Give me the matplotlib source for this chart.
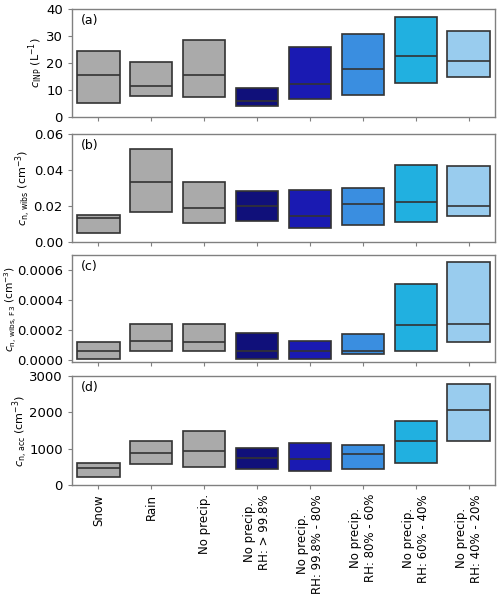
import matplotlib
matplotlib.use("Agg")
import matplotlib.pyplot as plt
import matplotlib.transforms as mtransforms
import numpy as np

categories = ["Snow", "Rain", "No precip.",
              "No precip.\nRH: > 99.8%", "No precip.\nRH: 99.8% - 80%",
              "No precip.\nRH: 80% - 60%", "No precip.\nRH: 60% - 40%",
              "No precip.\nRH: 40% - 20%"]
colors = ["#aaaaaa", "#aaaaaa", "#aaaaaa", "#10107a", "#1a1ab2",
          "#3a8ee0", "#21b0e0", "#99ccee"]

# (a) c_INP (L^-1)
inp_low = [5.1, 7.7, 7.5, 4.0, 6.7, 8.1, 12.5, 14.8]
inp_med = [15.7, 11.4, 15.4, 5.9, 12.2, 17.8, 22.6, 20.9]
inp_high = [24.6, 20.2, 28.5, 10.9, 25.8, 30.6, 37.0, 32.0]

# (b) c_n,wibs (cm^-3)
wibs_low = [0.0050, 0.0165, 0.0106, 0.0119, 0.0080, 0.0093, 0.0111, 0.0143]
wibs_med = [0.0131, 0.0333, 0.0187, 0.0198, 0.0143, 0.0211, 0.0222, 0.0198]
wibs_high = [0.0152, 0.0515, 0.0333, 0.0281, 0.0291, 0.0302, 0.0426, 0.0420]

# (c) c_n,wibs,F3 (cm^-3)
f3_low = [0.000007, 0.000062, 0.000062, 0.000007, 0.000007, 0.000044, 0.000064, 0.000120]
f3_med = [0.000064, 0.000131, 0.000122, 0.000064, 0.000064, 0.000064, 0.000236, 0.000240]
f3_high = [0.000124, 0.000244, 0.000244, 0.000178, 0.000127, 0.000176, 0.000504, 0.000651]

# (d) c_n,acc (cm^-3)
acc_low = [211, 578, 505, 450, 394, 431, 615, 1211]
acc_med = [477, 890, 936, 743, 716, 844, 1211, 2073]
acc_high = [596, 1211, 1486, 1028, 1165, 1110, 1752, 2780]

panels = [
    ("(a)", r"$c_\mathrm{INP}$ (L$^{-1}$)", inp_low, inp_med, inp_high,
     (0, 40), [0, 10, 20, 30, 40], "{:.0f}"),
    ("(b)", r"$c_\mathrm{n,\,wibs}$ (cm$^{-3}$)", wibs_low, wibs_med, wibs_high,
     (0, 0.06), [0, 0.02, 0.04, 0.06], "{:.2f}"),
    ("(c)", r"$c_\mathrm{n,\,wibs,\,F3}$ (cm$^{-3}$)", f3_low, f3_med, f3_high,
     (-0.000012, 0.0007), [0, 0.0002, 0.0004, 0.0006], "{:.4f}"),
    ("(d)", r"$c_\mathrm{n,\,acc}$ (cm$^{-3}$)", acc_low, acc_med, acc_high,
     (0, 3000), [0, 1000, 2000, 3000], "{:.0f}"),
]

W, H = 500, 597
fig = plt.figure(figsize=(W / 100, H / 100), dpi=100)
left, right = 72 / W, 495 / W
tops_bottoms = [(9, 117), (134, 242), (255, 362), (376, 485)]
label_x = [45 / W, 33 / W, 19.5 / W, 30 / W]
label_fs = [8, 8, 7.6, 8]

x = np.arange(len(categories))
width = 0.8
spine_c = "#808080"
edge_c = "#333333"

for i, ((lab, ylab, lo, med, hi, ylim, yt, fmt), (t, b)) in enumerate(zip(panels, tops_bottoms)):
    ax = fig.add_axes([left, 1 - b / H, right - left, (b - t) / H])
    lo = np.array(lo); med = np.array(med); hi = np.array(hi)
    ax.bar(x, hi - lo, bottom=lo, width=width, color=colors,
           edgecolor=edge_c, linewidth=1.2, zorder=2)
    ax.hlines(med, x - width / 2, x + width / 2, colors=edge_c, linewidth=1.2, zorder=3)
    ax.set_xlim(-0.5, len(categories) - 0.5)
    ax.set_ylim(*ylim)
    ax.set_yticks(yt)
    ax.set_yticklabels([fmt.format(v) for v in yt], fontsize=9.5)
    ax.set_xticks(x)
    if i == 3:
        ax.set_xticklabels(categories, rotation=90, fontsize=8.5, ha="center",
                           multialignment="center")
    else:
        ax.set_xticklabels([])
    ax.set_ylabel(ylab, fontsize=label_fs[i])
    trans = mtransforms.blended_transform_factory(fig.transFigure, ax.transAxes)
    ax.yaxis.set_label_coords(label_x[i], 0.5, transform=trans)
    ax.text(0.02, 0.95, lab, transform=ax.transAxes, ha="left", va="top", fontsize=9)
    for s in ax.spines.values():
        s.set_color(spine_c)
        s.set_linewidth(1.0)
    ax.tick_params(axis="both", colors=spine_c, labelcolor="black", length=3, width=0.8)

fig.savefig("out.png", dpi=100)
